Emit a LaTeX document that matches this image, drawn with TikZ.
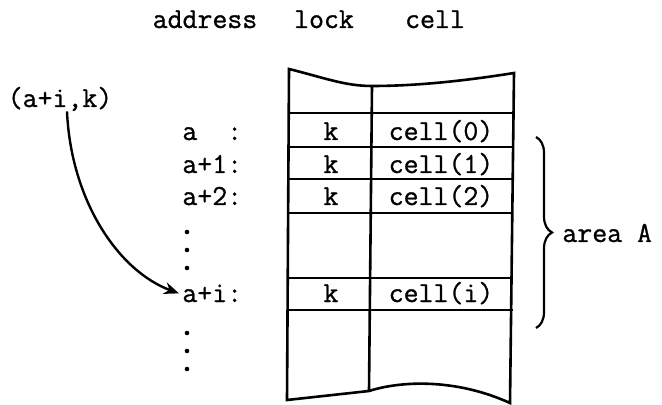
\documentclass[tikz,border=0pt]{standalone}
\usepackage{fontspec}
\setmonofont[FakeBold=1]{Latin Modern Mono}
\usetikzlibrary{arrows.meta, decorations.pathreplacing}

\tikzset{
    txt/.style={font=\ttfamily\bfseries\fontsize{14.5}{17}\selectfont, inner sep=0pt},
    memline/.style={line width=1.3pt},
    ellip/.style={radius=2.3},
}

\begin{document}
\begin{tikzpicture}[x=0.5pt, y=-0.5pt]
    \useasboundingbox (0,0) rectangle (662,405);

    % Column headings
    \node[txt, anchor=base] (hAddr) at (205,28) {address};
    \node[txt, anchor=base] (hLock) at (324,28) {lock};
    \node[txt, anchor=base] (hCell) at (435,28) {cell};

    % Memory block, torn off at top and bottom
    \draw[memline] (289,69) .. controls (325,78) and (345,86) .. (372,86)
        .. controls (420,86) and (470,80) .. (514,73) -- (510,403)
        .. controls (455,378) and (400,381) .. (369,391) -- (287,400) -- cycle;
    \draw[memline] (372,86) -- (369,391);
    % Row separators
    \foreach \y in {113,147,179,213,278,310}
        \draw[memline] (288,\y) -- (513,\y);

    % Locked cells
    \foreach \r/\y in {0/140,1/173,2/205} {
        \node[txt, anchor=base] (k\r) at (331,\y) {k};
        \node[txt, anchor=base] (c\r) at (441,\y) {cell(\r)};
    }
    \node[txt, anchor=base] (ki) at (331,302) {k};
    \node[txt, anchor=base] (ci) at (441,302) {cell(i)};

    % Addresses
    \node[txt, anchor=base west] (a0) at (182,140) {a\phantom{+1}:};
    \node[txt, anchor=base west] (a1) at (182,173) {a+1:};
    \node[txt, anchor=base west] (a2) at (182,205) {a+2:};
    \node[txt, anchor=base west] (ai) at (182,302) {a+i:};
    \foreach \y in {232,250,268,333,351,369}
        \fill (187,\y) circle[ellip];

    % Request and the cell it selects
    \node[txt, anchor=base] (req) at (60,107) {(a+i,k)};
    \draw[line width=1.2pt, -{Stealth[length=7.5pt, width=6pt]}]
        ([xshift=3.5pt]req.south) .. controls +(4,90) and +(-60,-22) .. ([xshift=-1.5pt]ai.west);

    % Area brace
    \coordinate (btop) at (536,137);
    \coordinate (bbot) at (536,328);
    \draw[line width=1.1pt, decorate, decoration={brace, amplitude=8pt}] (btop) -- (bbot);
    \node[txt, anchor=west] (areaA) at (562,233) {area A};
\end{tikzpicture}
\end{document}
